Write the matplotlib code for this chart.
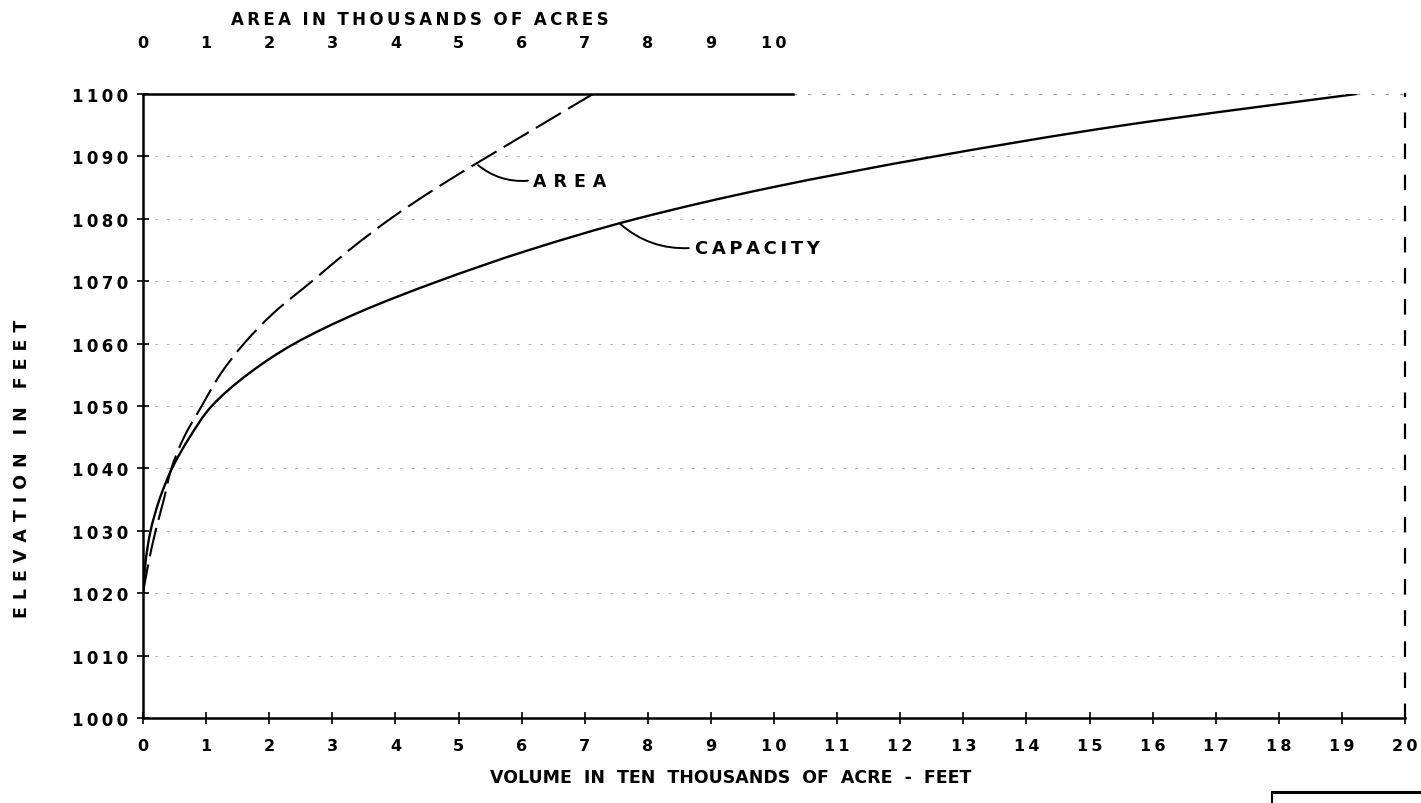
import matplotlib
matplotlib.use("Agg")
import matplotlib.pyplot as plt
from matplotlib.lines import Line2D
from matplotlib.path import Path
from matplotlib.patches import PathPatch

# ---- data ----
elevation = [1020, 1025, 1030, 1035, 1040, 1045, 1050, 1055, 1060,
             1065, 1070, 1075, 1080, 1085, 1090, 1095, 1100]
capacity = [0.0, 0.04, 0.12, 0.26, 0.46, 0.74, 1.09, 1.65, 2.40,
            3.42, 4.68, 6.12, 7.82, 9.95, 12.55, 15.55, 19.23]   # ten thousands acre-ft
area = [0.0, 0.09, 0.20, 0.33, 0.45, 0.65, 0.93, 1.22, 1.60,
        2.08, 2.68, 3.27, 3.92, 4.66, 5.47, 6.30, 7.13]          # thousands acres

y_ticks = [1000, 1010, 1020, 1030, 1040, 1050, 1060, 1070, 1080, 1090, 1100]
y_ticklabels = ["1000", "1010", "1020", "1030", "1040", "1050", "1060",
                "1070", "1080", "1090", "1100"]
x_ticks = list(range(0, 21))
x_ticklabels = [str(v) for v in x_ticks]
top_ticks = list(range(0, 11))
top_ticklabels = [str(v) for v in top_ticks]

FONT = "DejaVu Sans"


def spaced(text, n_thin=1, word_gap=2):
    out = []
    for w in text.split(" "):
        out.append(("\u2009" * n_thin).join(w))
    return (" " * word_gap).join(out)


def smooth_path(xs, ys, yscale=0.1):
    """Catmull-Rom curve through the read points, drawn as cubic Bezier segments."""
    pts = [(x, y * yscale) for x, y in zip(xs, ys)]
    verts = [pts[0]]
    codes = [Path.MOVETO]
    n = len(pts)
    for i in range(n - 1):
        p0 = pts[i - 1] if i > 0 else pts[i]
        p1, p2 = pts[i], pts[i + 1]
        p3 = pts[i + 2] if i + 2 < n else pts[i + 1]
        c1 = (p1[0] + (p2[0] - p0[0]) / 6, p1[1] + (p2[1] - p0[1]) / 6)
        c2 = (p2[0] - (p3[0] - p1[0]) / 6, p2[1] - (p3[1] - p1[1]) / 6)
        verts += [c1, c2, p2]
        codes += [Path.CURVE4] * 3
    verts = [(vx, vy / yscale) for vx, vy in verts]
    return Path(verts, codes)


W, H = 1421, 804
fig = plt.figure(figsize=(W / 100, H / 100), dpi=100)
fig.patch.set_facecolor("white")
ax = fig.add_axes([143 / W, 1 - 719 / H, (1405 - 143) / W, (719 - 95) / H])
ax.set_xlim(0, 20)
ax.set_ylim(1000, 1100)

# faint scan-like grid fragments
for yv in y_ticks[1:-1]:
    ax.axhline(yv, color="#b5b5b5", lw=0.7, ls=(0, (3, 9)), zorder=0)

# curves
ax.add_patch(PathPatch(smooth_path(capacity, elevation), fill=False,
                       edgecolor="black", lw=1.7, capstyle="round"))
ax.add_patch(PathPatch(smooth_path(area, elevation), fill=False,
                       edgecolor="black", lw=1.5, ls=(0, (14, 4))))

# leaders and labels
ax.annotate("", xy=(5.31, 1088.6), xytext=(6.1, 1086.1),
            arrowprops=dict(arrowstyle="-", color="black", lw=1.4,
                            connectionstyle="arc3,rad=-0.2", shrinkA=0, shrinkB=0))
ax.text(6.18, 1086.1, spaced("AREA", 2), fontsize=12.5, va="center", ha="left",
        family=FONT, fontweight="bold")
ax.annotate("", xy=(7.56, 1079.2), xytext=(8.65, 1075.3),
            arrowprops=dict(arrowstyle="-", color="black", lw=1.4,
                            connectionstyle="arc3,rad=-0.2", shrinkA=0, shrinkB=0))
ax.text(8.75, 1075.3, spaced("CAPACITY", 1), fontsize=13, va="center", ha="left",
        family=FONT, fontweight="bold")

# spines
for s in ["left", "bottom"]:
    ax.spines[s].set_linewidth(1.8)
ax.spines["top"].set_linewidth(1.8)
ax.spines["top"].set_bounds(0, 10.3)
ax.axhline(1100, xmin=10.3 / 20, xmax=1, color="#999999", lw=0.8, ls=(0, (3, 10)))
ax.spines["right"].set_linewidth(1.6)
ax.spines["right"].set_linestyle((0, (6, 8)))

# ticks
ax.set_yticks(y_ticks)
ax.set_yticklabels([spaced(t, 1) for t in y_ticklabels], fontsize=12, fontweight="bold",
                   family=FONT)
ax.set_xticks(x_ticks)
ax.set_xticklabels([spaced(t, 1) for t in x_ticklabels], fontsize=11.5, fontweight="bold",
                   family=FONT)
ax.tick_params(axis="y", direction="inout", length=9, width=1.2, pad=6)
ax.tick_params(axis="x", direction="inout", length=9, width=1.2, pad=10)

top = ax.secondary_xaxis("top")
top.set_xticks(top_ticks)
top.set_xticklabels([spaced(t, 1) for t in top_ticklabels], fontsize=11.5,
                    fontweight="bold", family=FONT)
top.tick_params(length=0, pad=32)
top.spines["top"].set_visible(False)

# axis titles
fig.text(420 / W, 1 - 20 / H, spaced("AREA IN THOUSANDS OF ACRES", 1, 2), ha="center",
         va="center", fontsize=12, fontweight="bold", family=FONT)
fig.text(731 / W, 1 - 778 / H, spaced("VOLUME IN TEN THOUSANDS OF ACRE - FEET", 0, 2),
         ha="center", va="center", fontsize=12.5, fontweight="bold", family=FONT)
fig.text(22 / W, 1 - 469 / H, spaced("ELEVATION IN FEET", 2, 3), ha="center", va="center",
         rotation=90, fontsize=12.5, fontweight="bold", family=FONT)

# partial title-block box at bottom right
fig.add_artist(Line2D([1272 / W, 1], [1 - 793 / H, 1 - 793 / H], transform=fig.transFigure,
                      color="black", lw=2.2))
fig.add_artist(Line2D([1272 / W, 1272 / W], [1 - 793 / H, 0], transform=fig.transFigure,
                      color="black", lw=1.5))

fig.savefig("out.png", dpi=100, facecolor="white")
